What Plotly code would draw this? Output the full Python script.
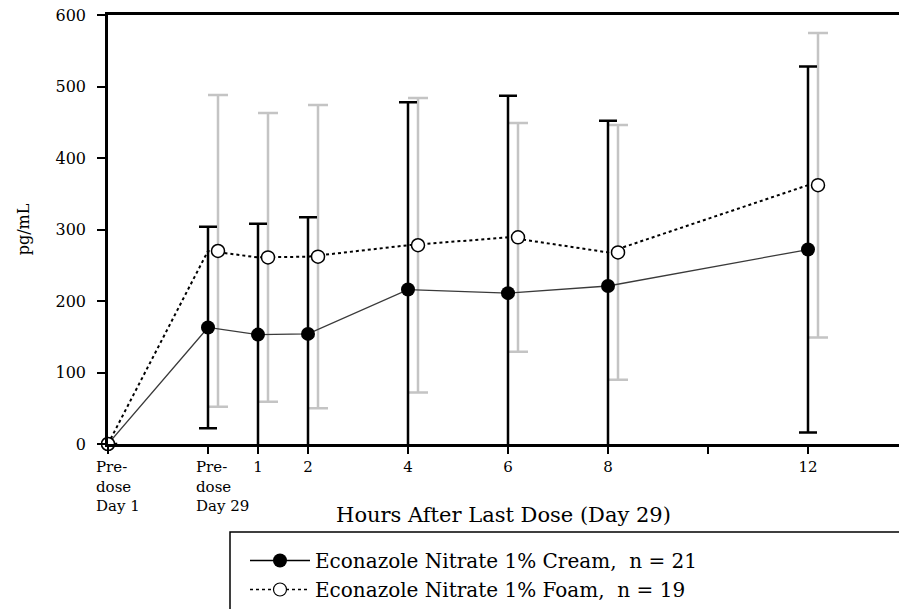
import plotly.graph_objects as go

# ---- data ----
x_pos = [-2, 0, 1, 2, 4, 6, 8, 12]          # plotting position: Predose Day1, Predose Day29, hours after last dose
tick_vals = [-2, 0, 1, 2, 4, 6, 8, 10, 12]
tick_text = ["", "", "1", "2", "4", "6", "8", "", "12"]
predose_labels = ["Pre-<br>dose<br>Day 1", "Pre-<br>dose<br>Day 29"]
predose_x = [-2, 0]

cream_mean = [0, 163, 153, 154, 216, 211, 221, 272]
cream_sd = [0, 141, 155, 163, 262, 276, 231, 256]
foam_mean = [0, 270, 261, 262, 278, 289, 268, 362]
foam_sd = [0, 218, 202, 212, 206, 160, 178, 213]

cream_name = "Econazole Nitrate 1% Cream,  n = 21"
foam_name = "Econazole Nitrate 1% Foam,  n = 19"

# ---- styling / layout constants ----
FONT = "DejaVu Serif"
FOAM_OFFSET = 0.2
W, H = 899, 609
ML, MT, MR = 108, 15, 0
MB = H - 444
PX_PER_HOUR = 50

plot_w = W - ML - MR
plot_h = H - MT - MB
x_min = -2
x_max = x_min + plot_w / PX_PER_HOUR
y0_px = 444  # pixel row of y = 0


def py(ref_y):
    """pixel row -> paper y"""
    return (y0_px - ref_y) / plot_h


def px(ref_x):
    """pixel column -> paper x"""
    return (ref_x - ML) / plot_w


foam_x = [x if i == 0 else x + FOAM_OFFSET for i, x in enumerate(x_pos)]
invisible = dict(size=1, color="rgba(0,0,0,0)")

fig = go.Figure()

# Foam error bars (grey, clipped to plot area)
fig.add_trace(go.Scatter(
    x=foam_x, y=foam_mean, mode="markers", marker=invisible,
    error_y=dict(type="data", array=foam_sd, color="#c4c4c4", thickness=2.5, width=10),
    showlegend=False, hoverinfo="skip", cliponaxis=True,
))
# Cream error bars (black, clipped to plot area)
fig.add_trace(go.Scatter(
    x=x_pos, y=cream_mean, mode="markers", marker=invisible,
    error_y=dict(type="data", array=cream_sd, color="black", thickness=2.5, width=9),
    showlegend=False, hoverinfo="skip", cliponaxis=True,
))
# Cream line + markers
fig.add_trace(go.Scatter(
    x=x_pos, y=cream_mean, mode="lines+markers", name=cream_name,
    line=dict(color="#3a3a3a", width=1.3),
    marker=dict(symbol="circle", size=14, color="black"),
    cliponaxis=False, showlegend=False,
))
# Foam line (at nominal positions)
fig.add_trace(go.Scatter(
    x=x_pos, y=foam_mean, mode="lines",
    line=dict(color="black", width=2, dash="dot"),
    showlegend=False, hoverinfo="skip",
))
# Foam markers (offset)
fig.add_trace(go.Scatter(
    x=foam_x, y=foam_mean, mode="markers", name=foam_name,
    marker=dict(symbol="circle", size=13, color="white", line=dict(color="black", width=1.5)),
    cliponaxis=False, showlegend=False,
))

# Legend entries
fig.add_trace(go.Scatter(
    x=[None], y=[None], mode="lines+markers", name=cream_name,
    line=dict(color="black", width=1.3),
    marker=dict(symbol="circle", size=14, color="black"),
))
fig.add_trace(go.Scatter(
    x=[None], y=[None], mode="lines+markers", name=foam_name,
    line=dict(color="black", width=1.3, dash="dot"),
    marker=dict(symbol="circle", size=13, color="white", line=dict(color="black", width=1.2)),
))

annotations = []
for xv, txt in zip(predose_x, predose_labels):
    annotations.append(dict(
        x=xv, y=0, xref="x", yref="paper", text=txt, showarrow=False,
        xanchor="left", yanchor="top", align="left", xshift=-14, yshift=-12,
        font=dict(family=FONT, size=15, color="black"),
    ))

fig.update_layout(
    width=W, height=H,
    margin=dict(l=ML, r=MR, t=MT, b=MB, autoexpand=False),
    paper_bgcolor="white", plot_bgcolor="white",
    font=dict(family=FONT, size=16, color="black"),
    annotations=annotations,
    shapes=[dict(type="rect", xref="paper", yref="paper",
                 x0=px(230), x1=1.05, y0=py(532), y1=py(640),
                 line=dict(color="black", width=1.5), fillcolor="rgba(0,0,0,0)")],
    legend=dict(
        x=px(245), y=py(541), xanchor="left", yanchor="top",
        bgcolor="rgba(0,0,0,0)", borderwidth=0, itemwidth=60,
        font=dict(family=FONT, size=20, color="black"),
        tracegroupgap=0,
    ),
    xaxis=dict(
        range=[x_min, x_max], tickmode="array", tickvals=tick_vals, ticktext=tick_text,
        showline=True, linecolor="black", linewidth=2.5, mirror=True,
        ticks="outside", ticklen=7, tickwidth=2, tickcolor="black",
        showgrid=False, zeroline=False, automargin=False,
        tickfont=dict(family=FONT, size=15, color="black"),
        title=dict(text="Hours After Last Dose (Day 29)", standoff=33,
                   font=dict(family=FONT, size=21, color="black")),
    ),
    yaxis=dict(
        range=[0, 600], tickvals=[0, 100, 200, 300, 400, 500, 600],
        showline=True, linecolor="black", linewidth=2.5, mirror=False,
        ticks="outside", ticklen=8, tickwidth=2, tickcolor="black",
        showgrid=False, zeroline=False, automargin=False,
        ticklabelstandoff=8, ticklabeloverflow="allow",
        tickfont=dict(family=FONT, size=16, color="black"),
        title=dict(text="pg/mL", standoff=22, font=dict(family=FONT, size=16, color="black")),
    ),
)

fig.write_html("out.html", config={"displayModeBar": False},
               post_script="document.body.style.margin='0px';")
